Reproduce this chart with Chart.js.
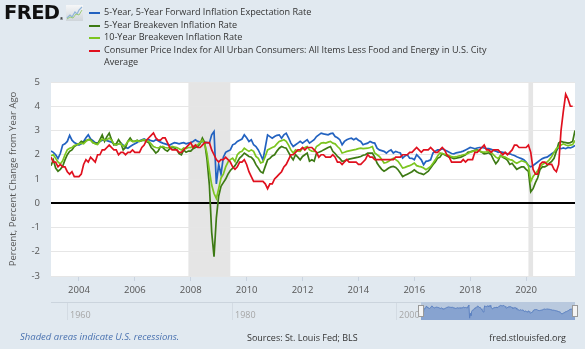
<!DOCTYPE html>
<html>
<head>
<meta charset="utf-8">
<script src="https://cdn.jsdelivr.net/npm/chart.js@4.4.1/dist/chart.umd.min.js"></script>
<style>
  body { margin: 0; background: #e1e9f0; font-family: "Open Sans", sans-serif; }
  #wrap { position: relative; width: 585px; height: 349px; overflow: hidden; }
  #main { position: absolute; left: 0; top: 0; }
  #logo { position: absolute; left: 4px; top: 1px; font: bold 19.5px "DejaVu Sans", sans-serif; color: #111; letter-spacing: -0.6px; }
  #logo span { font-size: 4px; vertical-align: -1px; }
  #icon { position: absolute; left: 66px; top: 5px; }
  #legend { position: absolute; left: 104px; top: 6px; font-size: 9.1px; line-height: 12.6px; color: #333; white-space: pre-line; }
  #legend .item { position: relative; }
  #legend .swatch { position: absolute; left: -15px; top: 6px; width: 11px; height: 2px; }
  #navLine { position: absolute; left: 51px; top: 302px; width: 524px; height: 1px; background: #cbd4dd; }
  #navSel { position: absolute; left: 421px; top: 302px; width: 154px; height: 18px; background: #b9c9de; }
  #nav { position: absolute; left: 421px; top: 302px; }
  .grid { position: absolute; top: 303px; width: 1px; height: 17px; background: #d3dbe3; }
  .handle { position: absolute; top: 305px; width: 4px; height: 10px; background: #f4f4f4; border: 1px solid #999; }
  .navlab { position: absolute; top: 308px; font-size: 9px; color: #a6a6a6; }
  .foot { position: absolute; top: 331px; font-size: 9px; color: #333; }
</style>
</head>
<body>
<div id="wrap">
  <canvas id="main" width="585" height="349"></canvas>
  <div id="logo">FRED<span>®</span></div>
  <svg id="icon" width="17" height="16" viewBox="0 0 17 16">
    <defs><linearGradient id="g" x1="0" y1="0" x2="0" y2="1"><stop offset="0" stop-color="#f6f7f8"/><stop offset="1" stop-color="#cfd5da"/></linearGradient></defs>
    <rect x="0" y="0" width="17" height="16" fill="url(#g)"/>
    <polyline points="1,13 4,10 6,12 9,7 11,9 13,5 16,2" fill="none" stroke="#8fb4d9" stroke-width="1.2"/>
    <polyline points="1,14 4,12 7,13 10,9 13,10 16,5" fill="none" stroke="#9ccb7a" stroke-width="1"/>
  </svg>
  <div id="legend"></div>
  <div id="navLine"></div>
  <div class="grid" style="left:67px"></div>
  <div class="grid" style="left:232px"></div>
  <div class="grid" style="left:396px"></div>
  <div id="navSel"></div>
  <canvas id="nav" width="154" height="18"></canvas>
  <div class="handle" style="left:418px"></div>
  <div class="handle" style="left:572px"></div>
  <div class="navlab" style="left:70px">1960</div>
  <div class="navlab" style="left:235px">1980</div>
  <div class="navlab" style="left:399px">2000</div>
  <div class="foot" style="left:20px; color:#4a72b0; font-style:italic; font-size:9.5px; top:330px;">Shaded areas indicate U.S. recessions.</div>
  <div class="foot" style="left:247px;">Sources: St. Louis Fed; BLS</div>
  <div class="foot" style="right:19px;">fred.stlouisfed.org</div>
</div>
<script>
// monthly observations starting January 2003
const startYear = 2003;

const seriesNames = [
  '5-Year, 5-Year Forward Inflation Expectation Rate',
  '5-Year Breakeven Inflation Rate',
  '10-Year Breakeven Inflation Rate',
  'Consumer Price Index for All Urban Consumers: All Items Less Food and Energy in U.S. City\nAverage'
];
const seriesColors = ['#2262c0', '#3d7a14', '#7cc520', '#e0101e'];

const forward5y5y = [
  2.15,2.10,2.00,1.85,2.05,2.40,2.45,2.55,2.80,2.60,2.50,2.45, // 2003
  2.40,2.45,2.55,2.70,2.82,2.65,2.58,2.50,2.48,2.55,2.60,2.62, // 2004
  2.58,2.55,2.52,2.45,2.40,2.45,2.48,2.40,2.30,2.27,2.34,2.40, // 2005
  2.45,2.50,2.58,2.62,2.65,2.60,2.62,2.58,2.55,2.62,2.58,2.52, // 2006
  2.48,2.45,2.42,2.40,2.45,2.50,2.48,2.45,2.48,2.50,2.45,2.48, // 2007
  2.50,2.55,2.62,2.55,2.52,2.55,2.52,2.50,2.48,2.82,2.96,0.80, // 2008
  1.60,1.20,1.90,2.10,2.15,2.20,2.41,2.45,2.55,2.60,2.65,2.82, // 2009
  2.70,2.55,2.62,2.41,2.34,2.20,2.00,1.79,2.30,2.82,2.75,2.68, // 2010
  2.75,2.80,2.82,2.68,2.82,2.89,2.70,2.48,2.34,2.41,2.48,2.55, // 2011
  2.48,2.55,2.62,2.48,2.55,2.62,2.75,2.82,2.89,2.86,2.84,2.82, // 2012
  2.87,2.89,2.75,2.70,2.62,2.41,2.55,2.62,2.66,2.68,2.62,2.68, // 2013
  2.60,2.55,2.41,2.45,2.48,2.55,2.50,2.48,2.27,2.20,2.17,2.14, // 2014
  2.07,2.15,2.20,2.07,2.14,2.10,2.07,1.86,1.95,2.00,1.86,1.85, // 2015
  1.79,2.00,1.90,1.79,1.59,1.73,1.75,1.79,2.07,2.15,2.20,2.20, // 2016
  2.25,2.20,2.15,2.10,2.05,2.04,2.08,2.10,2.12,2.15,2.20,2.25, // 2017
  2.30,2.28,2.25,2.28,2.30,2.30,2.28,2.25,2.25,2.22,2.18,2.15, // 2018
  2.10,2.12,2.10,2.08,2.04,2.04,2.00,1.97,1.92,1.88,1.84,1.80, // 2019
  1.70,1.56,1.50,1.55,1.63,1.70,1.78,1.84,1.88,1.90,1.97,2.04, // 2020
  2.10,2.18,2.30,2.25,2.28,2.25,2.30,2.28,2.32,2.38            // 2021
];

const breakeven5y = [
  1.55,1.79,1.45,1.32,1.40,1.52,1.79,2.00,2.14,2.20,2.34,2.40,
  2.45,2.55,2.50,2.58,2.62,2.62,2.50,2.48,2.45,2.62,2.82,2.55,
  2.75,2.89,2.62,2.41,2.45,2.62,2.48,2.20,2.30,2.55,2.69,2.55,
  2.55,2.60,2.55,2.58,2.60,2.55,2.50,2.30,2.20,2.07,2.15,2.34,
  2.30,2.20,2.15,2.25,2.30,2.28,2.20,2.05,2.00,2.20,2.10,2.15,
  2.15,2.25,2.30,2.34,2.45,2.69,2.50,1.80,0.75,-1.20,-2.20,-0.60,
  0.30,0.70,0.85,1.00,1.20,1.35,1.45,1.55,1.70,1.86,1.95,2.07,
  2.00,1.93,1.90,1.79,1.59,1.45,1.30,1.25,1.52,1.79,1.85,1.95,
  2.00,2.15,2.27,2.34,2.30,2.27,2.10,1.93,1.79,2.00,1.90,1.79,
  1.93,2.00,2.07,1.73,1.79,1.73,2.07,2.10,2.14,2.20,2.25,2.30,
  2.34,2.14,2.05,1.93,1.85,1.73,1.75,1.79,1.82,1.84,1.86,1.88,
  1.90,1.93,1.98,2.00,2.07,2.07,2.07,1.90,1.66,1.52,1.40,1.32,
  1.38,1.45,1.50,1.52,1.48,1.38,1.25,1.10,1.15,1.20,1.25,1.30,
  1.38,1.30,1.25,1.22,1.18,1.25,1.32,1.45,1.59,1.70,1.86,1.90,
  2.05,2.00,1.95,1.90,1.88,1.84,1.86,1.88,1.90,1.95,2.00,2.10,
  2.12,2.15,2.18,2.20,2.15,2.10,2.04,2.05,2.08,2.00,1.80,1.63,
  1.75,1.97,1.90,1.85,1.77,1.60,1.65,1.52,1.40,1.45,1.50,1.50,
  1.40,1.31,0.47,0.60,0.85,1.05,1.40,1.50,1.50,1.55,1.65,1.73,
  1.85,2.14,2.48,2.55,2.52,2.50,2.48,2.50,2.55,3.00
];

const breakeven10y = [
  1.96,2.00,1.85,1.70,1.62,1.75,2.00,2.20,2.27,2.30,2.38,2.41,
  2.45,2.48,2.45,2.55,2.62,2.60,2.50,2.45,2.42,2.55,2.65,2.60,
  2.62,2.69,2.60,2.45,2.40,2.45,2.45,2.34,2.40,2.55,2.60,2.55,
  2.55,2.58,2.55,2.60,2.62,2.58,2.55,2.45,2.34,2.30,2.28,2.32,
  2.34,2.30,2.28,2.30,2.34,2.32,2.30,2.25,2.20,2.28,2.25,2.30,
  2.30,2.35,2.38,2.41,2.50,2.60,2.45,2.05,1.35,0.75,0.40,0.20,
  0.60,1.04,1.20,1.50,1.70,1.80,1.86,1.72,2.00,2.10,2.14,2.27,
  2.20,2.14,2.20,2.14,1.93,1.85,1.66,1.70,1.93,2.20,2.25,2.30,
  2.34,2.45,2.55,2.58,2.62,2.55,2.40,2.20,2.07,2.20,2.15,2.14,
  2.27,2.30,2.34,2.20,2.15,2.14,2.34,2.40,2.48,2.50,2.48,2.52,
  2.55,2.48,2.45,2.34,2.25,2.07,2.10,2.14,2.16,2.18,2.20,2.22,
  2.25,2.27,2.25,2.26,2.27,2.30,2.34,2.07,2.00,1.93,1.80,1.66,
  1.68,1.73,1.80,1.86,1.80,1.73,1.60,1.45,1.48,1.52,1.55,1.60,
  1.66,1.55,1.52,1.50,1.45,1.38,1.45,1.52,1.65,1.79,1.95,2.07,
  2.05,2.02,2.00,1.97,1.92,1.90,1.92,1.95,1.97,2.00,2.02,2.05,
  2.10,2.14,2.16,2.18,2.15,2.12,2.11,2.12,2.14,2.10,2.00,1.90,
  1.85,1.95,1.92,1.90,1.85,1.80,1.78,1.70,1.65,1.70,1.75,1.72,
  1.68,1.55,0.90,1.10,1.22,1.35,1.50,1.60,1.66,1.70,1.80,1.93,
  2.10,2.25,2.32,2.40,2.45,2.40,2.38,2.40,2.42,2.59
];

const coreCpi = [
  1.9,1.7,1.7,1.5,1.6,1.5,1.5,1.3,1.2,1.3,1.1,1.1,
  1.1,1.2,1.6,1.8,1.7,1.9,1.8,1.7,2.0,2.0,2.2,2.2,
  2.3,2.4,2.3,2.2,2.2,2.0,2.1,2.1,2.0,2.1,2.1,2.2,
  2.1,2.1,2.1,2.3,2.4,2.6,2.7,2.8,2.9,2.7,2.6,2.6,
  2.7,2.7,2.5,2.3,2.2,2.2,2.2,2.1,2.1,2.2,2.3,2.4,
  2.5,2.3,2.4,2.3,2.3,2.4,2.5,2.5,2.5,2.2,2.0,1.8,
  1.7,1.8,1.8,1.9,1.8,1.7,1.5,1.4,1.5,1.7,1.7,1.8,
  1.6,1.3,1.1,0.9,0.9,0.9,0.9,0.9,0.8,0.6,0.8,0.8,
  1.0,1.1,1.2,1.3,1.5,1.6,1.8,2.0,2.0,2.1,2.2,2.2,
  2.3,2.2,2.3,2.3,2.3,2.2,2.1,1.9,2.0,2.0,1.9,1.9,
  1.9,2.0,1.9,1.7,1.7,1.6,1.7,1.8,1.7,1.7,1.7,1.7,
  1.6,1.6,1.7,1.8,2.0,1.9,1.9,1.8,1.8,1.8,1.8,1.8,
  1.8,1.8,1.8,1.8,1.9,1.9,1.9,2.0,2.0,2.0,2.1,2.1,
  2.2,2.3,2.2,2.1,2.2,2.2,2.2,2.3,2.2,2.1,2.1,2.2,
  2.3,2.2,2.0,1.9,1.7,1.7,1.7,1.7,1.7,1.8,1.7,1.8,
  1.8,1.8,2.1,2.1,2.2,2.3,2.4,2.2,2.2,2.1,2.2,2.2,
  2.2,2.1,2.0,2.1,2.0,2.1,2.2,2.4,2.4,2.3,2.3,2.3,
  2.3,2.4,2.1,1.4,1.2,1.2,1.6,1.7,1.7,1.6,1.6,1.6,
  1.4,1.3,1.6,3.0,3.8,4.5,4.3,4.0,4.0
];

const recessions = [['2007-12', '2009-06'], ['2020-02', '2020-04']];
const xTickYears = [2004, 2006, 2008, 2010, 2012, 2014, 2016, 2018, 2020];
const yTicks = [-3, -2, -1, 0, 1, 2, 3, 4, 5];

function toPoints(values) {
  return values.map((v, i) => ({ x: startYear + i / 12, y: v }));
}
function monthToYear(s) {
  const [y, m] = s.split('-').map(Number);
  return y + (m - 1) / 12;
}

// legend
const legend = document.getElementById('legend');
seriesNames.forEach((name, i) => {
  const d = document.createElement('div');
  d.className = 'item';
  d.textContent = name;
  const sw = document.createElement('span');
  sw.className = 'swatch';
  sw.style.background = seriesColors[i];
  d.appendChild(sw);
  legend.appendChild(d);
});

const allSeries = [forward5y5y, breakeven5y, breakeven10y, coreCpi];
const xMin = startYear;
const xMax = startYear + (forward5y5y.length - 1) / 12;

const backdrop = {
  id: 'backdrop',
  beforeDraw(chart) {
    const { ctx, chartArea: a, scales: { x } } = chart;
    ctx.save();
    ctx.fillStyle = '#ffffff';
    ctx.fillRect(a.left, a.top, a.right - a.left, a.bottom - a.top);
    ctx.fillStyle = '#e5e5e5';
    recessions.forEach(([s, e]) => {
      const x0 = x.getPixelForValue(monthToYear(s));
      const x1 = x.getPixelForValue(monthToYear(e));
      ctx.fillRect(x0, a.top, x1 - x0, a.bottom - a.top);
    });
    ctx.restore();
  }
};

Chart.defaults.font.family = '"Open Sans", sans-serif';

new Chart(document.getElementById('main'), {
  type: 'line',
  data: {
    datasets: allSeries.map((vals, i) => ({
      label: seriesNames[i],
      data: toPoints(vals),
      borderColor: seriesColors[i],
      borderWidth: 1.7,
      pointRadius: 0,
      tension: 0,
      order: 4 - i
    }))
  },
  options: {
    responsive: false,
    devicePixelRatio: 1,
    animation: false,
    layout: { padding: { top: 82, right: 10, bottom: 0, left: 0 } },
    plugins: { legend: { display: false }, tooltip: { enabled: false } },
    scales: {
      x: {
        type: 'linear',
        min: xMin,
        max: xMax,
        afterFit(scale) { scale.height = 73; },
        afterBuildTicks(scale) { scale.ticks = xTickYears.map(v => ({ value: v })); },
        ticks: {
          autoSkip: false, maxRotation: 0, padding: 4,
          color: '#555', font: { size: 9.5 },
          callback: v => String(v)
        },
        grid: { drawOnChartArea: false, drawTicks: true, tickLength: 5, color: '#c9d3e0' },
        border: { display: false }
      },
      y: {
        min: -3,
        max: 5,
        afterFit(scale) { scale.width = 51; },
        afterBuildTicks(scale) { scale.ticks = yTicks.map(v => ({ value: v })); },
        ticks: { padding: 11, color: '#555', font: { size: 9.5 } },
        grid: {
          drawTicks: false,
          color: c => (c.tick && c.tick.value === 0 ? '#000000' : '#e6e6e6'),
          lineWidth: c => (c.tick && c.tick.value === 0 ? 2 : 1)
        },
        border: { display: false },
        title: {
          display: true,
          text: 'Percent, Percent Change from Year Ago',
          color: '#555',
          font: { size: 9.5 },
          padding: { top: 8, bottom: 0 }
        }
      }
    }
  },
  plugins: [backdrop]
});

// navigator thumbnail of the first series
new Chart(document.getElementById('nav'), {
  type: 'line',
  data: {
    datasets: [{
      data: toPoints(forward5y5y),
      borderColor: '#5b80c0',
      backgroundColor: '#87a3d0',
      borderWidth: 1,
      fill: 'start',
      pointRadius: 0,
      tension: 0
    }]
  },
  options: {
    responsive: false,
    devicePixelRatio: 1,
    animation: false,
    layout: { padding: 0 },
    plugins: { legend: { display: false }, tooltip: { enabled: false } },
    scales: {
      x: { type: 'linear', min: xMin, max: xMax, display: false },
      y: { min: 0.5, max: 3.45, display: false }
    }
  }
});
</script>
</body>
</html>
